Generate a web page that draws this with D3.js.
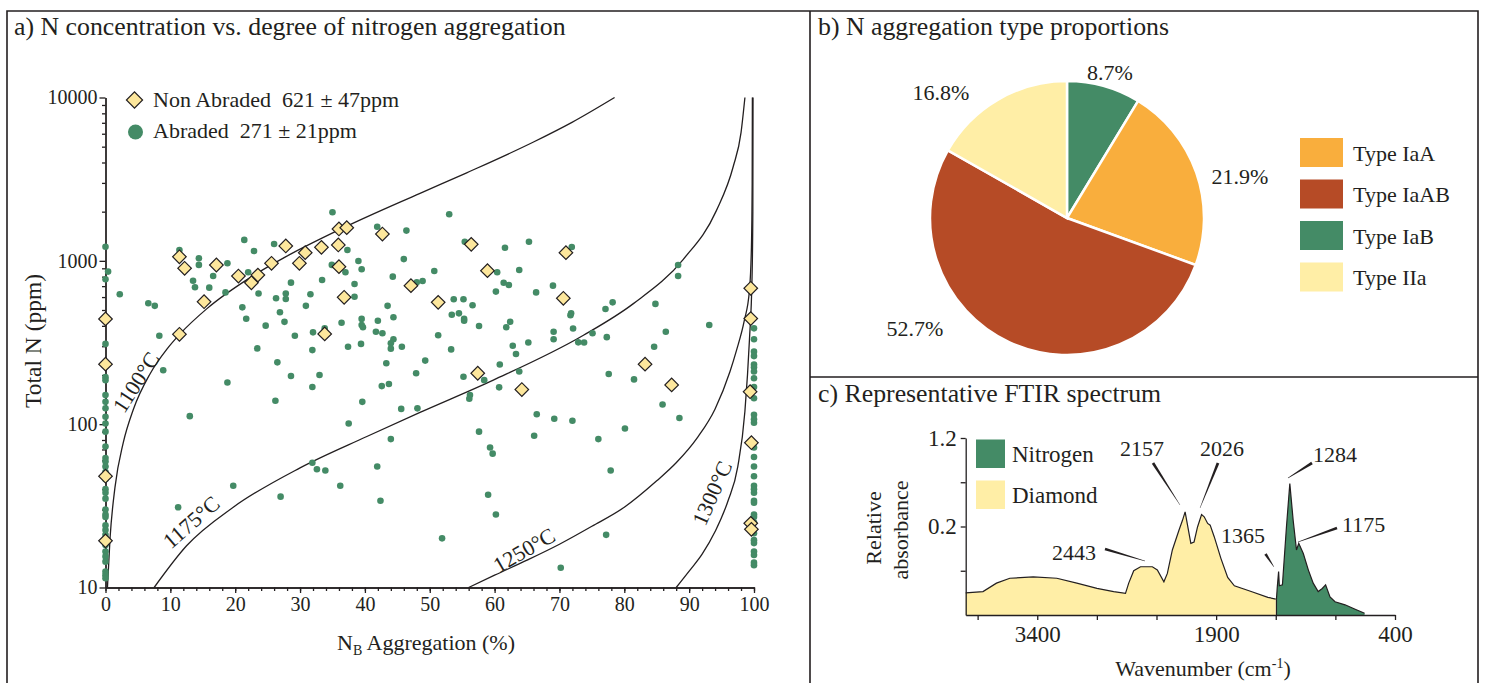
<!DOCTYPE html>
<html>
<head>
<meta charset="utf-8">
<script src="https://cdnjs.cloudflare.com/ajax/libs/d3/7.8.5/d3.min.js"></script>
<style>
body { margin: 0; background: #fff; }
</style>
</head>
<body>
<svg id="fig" width="1486" height="683"></svg>
<script>
// ---- panel a data: [N_B aggregation %, total N ppm]
var nonAbraded = [
  [0,441],[0,233],[0,48],[0,19.3],
  [11.4,1059],[12.2,900],[11.4,355],[15.2,562],[17.1,943],[20.5,807],[22.5,734],[23.5,818],
  [25.6,966],[27.8,1233],[29.9,966],[30.8,1122],[33.3,1210],[33.8,357],[35.9,1251],[36.0,1567],
  [36.0,921],[36.8,598],[37.2,1596],[42.7,1459],[47.1,705],[51.3,557],[56.4,1262],[57.4,205],
  [58.9,871],[64.2,163],[70.6,590],[71.0,1122],[83.2,233],[87.3,174],
  [99.5,679],[99.5,443],[99.4,158],[99.6,77],[99.5,24.7],[99.6,22.7]
];
var abraded = [
  [0,1220],[0.4,859],[0,771],[2.2,624],[6.6,550],[7.6,530],[0,310],[8.3,348],[8.9,214],
  [11.4,1165],[14.4,1037],[14.4,944],[13.5,755],[13.8,689],[16.0,685],[16.6,807],[18.8,966],[18.5,641],
  [21.4,1343],[22.9,1148],[22.0,851],[23.6,631],[21.1,519],[21.7,442],[24.7,401],[23.4,291],[26.5,239],
  [26.0,1268],[26.3,590],[26.9,484],[27.6,423],[27.8,631],[27.8,584],[28.6,735],[29.2,348],[28.6,197],
  [30.9,530],[31.6,624],[32.0,365],[31.9,284],[33.0,200],[33.4,763],[33.8,386],[35.0,1982],[34.9,944],
  [37.0,851],[37.3,1165],[36.4,418],[37.4,298],[38.4,722],[38.4,603],[39.0,998],[39.5,888],[39.5,441],
  [39.5,405],[39.7,392],[39.4,310],[41.9,1618],[41.7,368],[42.7,360],[42.0,430],[43.5,530],[43.3,236],
  [44.3,800],[44.4,451],[44.4,331],[44.0,313],[44.0,290],
  [46.4,1531],[46.0,1025],[45.7,298],[47.9,205],[48.0,739],[48.9,752],[50.7,867],[51.3,350],[49.3,245],
  [53.3,287],[53.0,1928],[55.4,1310],[53.7,582],[55.2,582],[56.6,535],[53.4,468],[54.5,477],[55.3,441],
  [55.3,430],[57.6,399],[60.4,851],[61.4,734],[62.2,711],[60.2,648],[61.6,1203],[63.8,879],[65.3,1310],
  [66.4,641],[69.0,705],[71.9,1216],[62.4,424],[61.8,392],[62.8,302],[63.3,269],[65.2,316],[60.8,232],
  [63.8,210],[55.2,195],[69.1,368],[69.1,331],[71.7,464],[71.8,477],[72.1,385],[72.9,317],[73.8,316],
  [75.1,360],[77.3,341],[77.1,507],[78.2,557],[77.6,203],[81.5,188],[84.8,545],[86.4,368],[84.6,298],
  [88.3,943],[88.3,807],[93.1,405],
  [18.8,180],[31.9,169],[42.6,171],[43.7,176],[26.2,139],[39.6,137],[13.0,112],[45.6,124],[48.1,125],
  [37.5,101],[44.0,81],[31.9,58],[32.6,53],[33.9,52],[41.9,55],[36.2,42],[19.7,42],[27.0,36],[42.4,34],[11.2,31],
  [58.4,186],[60.7,168],[56.2,151],[56.1,143],[66.5,115],[69.2,108],[72.0,105],[57.6,90],[66.1,85],
  [76.0,81],[80.1,94],[85.9,132],[88.5,109],[59.3,72],[59.7,66],[77.9,52],[59.0,37],[60.2,28],
  [51.9,20],[77.2,21],[70.2,13.2],
  [0,194],[0,186],[0,151],[0,137],[0,125],[0,111],[0,101],[0,90],[0,73],[0,62],[0,59],[0,55],[0,51],
  [0,46],[0,40],[0,38],[0,35],[0,30],[0,28],[0,27],[0,24],[0,22.5],[0,21],[0,18.2],[0,16.6],[0,15.5],
  [0,14.4],[0,12.5],[0,11.9],[0,11.4],
  [100,386],[100,331],[100,278],[100,261],[100,232],[100,223],[100,210],[100,191],[100,169],[100,144],
  [100,114],[100,107],[100,102],[100,72],[100,63],[100,55],[100,48],[100,42],[100,40],[100,38],[100,34],
  [100,33],[100,28],[100,27],[100,25],[100,21.5],[100,19.5],[100,18.7],[100,16.6],[100,15.8],[100,14.2],[100,13.7]
];
// isotherms
var iso1100 = [[0.3,10],[0.7,20],[1.46,41],[2.74,77],[4.29,123],[6.86,203],[9.44,287],[11.5,357],[15.6,508],
  [22.3,789],[27.9,1064],[36.7,1594],[48.5,2590],[55.7,3460],[66,5340],[72,7070],[78.5,10000]];
var iso1175 = [[7.5,10],[12.5,18],[19.7,31],[30,54],[40.3,84],[48.5,118],[59.8,186],[73.7,350],[81.4,547],
  [89.1,1022],[94.2,2030],[96.8,3780],[98,6100],[98.6,10000]];
var iso1250 = [[56,10],[60,11.9],[65,14.7],[70,18.4],[75,23.7],[80,31],[85,45],[88,58],[91.3,83],[94,124],
  [96.3,210],[97.3,283],[98.5,430],[99.3,660],[99.6,1200],[99.72,3000],[99.75,10000]];
var iso1300 = [[88,10],[90,12.6],[92,16],[94,22],[96,34],[97.5,55],[98.6,120],[99.3,330],[99.7,800],
  [99.82,2000],[99.85,10000]];
var isoNames = ["1100°C", "1175°C", "1250°C", "1300°C"];
var xTicksA = [0,10,20,30,40,50,60,70,80,90,100];
var yTicksA = [10,100,1000,10000];

// ---- panel b data
var sliceTypes = ["Type IaB", "Type IaA", "Type IaAB", "Type IIa"];
var sliceValues = [8.7, 21.9, 52.7, 16.8];
var legendTypes = ["Type IaA", "Type IaAB", "Type IaB", "Type IIa"];

// ---- panel c data: [wavenumber cm-1, absorbance]
var diamondSpec = [[4000,0.050],[3855,0.053],[3742,0.072],[3630,0.083],[3434,0.086],[3236,0.083],[3068,0.072],
  [2899,0.060],[2759,0.053],[2660,0.049],[2633,0.072],[2591,0.100],[2534,0.109],[2435,0.109],[2393,0.102],
  [2338,0.075],[2309,0.094],[2267,0.147],[2211,0.192],[2182,0.214],[2160,0.233],[2112,0.162],[2085,0.165],
  [2056,0.199],[2022,0.227],[2000,0.222],[1971,0.207],[1950,0.203],[1916,0.177],[1860,0.128],[1803,0.085],
  [1747,0.066],[1606,0.053],[1466,0.040],[1400,0.036]];
var nitrogenSpec = [[1394,0.036],[1387,0.064],[1376,0.098],[1370,0.066],[1344,0.068],[1310,0.2],[1282,0.297],
  [1254,0.214],[1226,0.147],[1207,0.162],[1169,0.139],[1127,0.102],[1086,0.072],[1044,0.053],[1010,0.060],
  [982,0.068],[945,0.041],[903,0.030],[819,0.023],[734,0.013],[655,0.004]];
var peakNames = ["2443", "2157", "2026", "1365", "1284", "1175"];
var specXTicks = [3900,3400,2900,2400,1900,1400,900,400];
var specXLabels = ["", "3400", "", "", "1900", "", "", "400"];
var specYTicks = [0.1,0.2,0.3,0.4];
var specYLabels = ["", "0.2", "", "1.2"];

var serif = '"Liberation Serif", Tinos, "Times New Roman", Times, "DejaVu Serif", serif';
var ink = "#231f20";
var green = "#448b66", orange = "#f9ae3d", rust = "#b64b26", pale = "#ffeea6", diamondFill = "#fde79c";
var typeColor = { "Type IaA": orange, "Type IaAB": rust, "Type IaB": green, "Type IIa": pale };

var svg = d3.select("#fig").style("font-family", serif);

// frames
var frame = svg.append("g").attr("fill", "none").attr("stroke", ink).attr("stroke-width", 1.6);
frame.append("path").attr("d", "M7,683V11H1478V683");
frame.append("path").attr("d", "M810,11V683M810,377H1478");

// titles
svg.append("text").attr("x", 14).attr("y", 35).style("font-size", "25.8px")
    .text("a) N concentration vs. degree of nitrogen aggregation");
svg.append("text").attr("x", 818).attr("y", 35).style("font-size", "25.8px")
    .text("b) N aggregation type proportions");
svg.append("text").attr("x", 818).attr("y", 402).style("font-size", "25.8px")
    .text("c) Representative FTIR spectrum");

// ================= panel a
var x = d3.scaleLinear().domain([0, 100]).range([105.5, 754]);
var y = d3.scaleLog().domain([10, 10000]).range([587.5, 97.5]);

var ga = svg.append("g");

ga.append("g").attr("transform", "translate(0,587.5)")
    .call(d3.axisBottom(x).tickValues(d3.range(0, 101, 2)).tickSize(3.5).tickFormat("").tickSizeOuter(0));
ga.append("g").attr("transform", "translate(0,587.5)")
    .call(d3.axisBottom(x).tickValues(xTicksA).tickSize(5.5).tickPadding(4).tickSizeOuter(0))
    .selectAll("text").style("font-size", "20px");

var minorY = [];
[10, 100, 1000].forEach(function(d) { for (var k = 2; k < 10; k++) minorY.push(d * k); });
ga.append("g").attr("transform", "translate(105.5,0)")
    .call(d3.axisLeft(y).tickValues(minorY).tickSize(3.5).tickFormat("").tickSizeOuter(0));
ga.append("g").attr("transform", "translate(105.5,0)")
    .call(d3.axisLeft(y).tickValues(yTicksA).tickSize(6).tickPadding(2).tickFormat(d3.format("d")).tickSizeOuter(0))
    .selectAll("text").style("font-size", "20px");
ga.selectAll(".domain, .tick line").attr("stroke", ink).attr("stroke-width", 1.3);

// isotherms
var isoLine = d3.line()
    .x(function(d) { return x(d[0]); })
    .y(function(d) { return y(d[1]); })
    .curve(d3.curveMonotoneX);
[iso1100, iso1175, iso1250, iso1300].forEach(function(c) {
    ga.append("path").attr("d", isoLine(c)).attr("fill", "none")
        .attr("stroke", ink).attr("stroke-width", 1.3);
});
var isoLabelPos = [[136, 382, -57], [191, 522, -41], [524, 550, -30], [712, 493, -66]];
isoNames.forEach(function(n, i) {
    var p = isoLabelPos[i];
    ga.append("text").attr("transform", "translate(" + p[0] + "," + p[1] + ") rotate(" + p[2] + ")")
        .attr("text-anchor", "middle").attr("dy", "0.35em").style("font-size", "22px").text(n);
});

// points
ga.append("g").selectAll("circle").data(abraded).enter().append("circle")
    .attr("cx", function(d) { return x(d[0]); })
    .attr("cy", function(d) { return y(d[1]); })
    .attr("r", 3.3).attr("fill", green);

var diamond = d3.symbol().type(d3.symbolSquare).size(92);
ga.append("g").selectAll("path").data(nonAbraded).enter().append("path")
    .attr("d", diamond)
    .attr("transform", function(d) { return "translate(" + x(d[0]) + "," + y(d[1]) + ") rotate(45)"; })
    .attr("fill", diamondFill).attr("stroke", ink).attr("stroke-width", 1.2);

// legend
ga.append("path").attr("d", d3.symbol().type(d3.symbolSquare).size(130))
    .attr("transform", "translate(134.5,100) rotate(45)")
    .attr("fill", diamondFill).attr("stroke", ink).attr("stroke-width", 1.2);
ga.append("circle").attr("cx", 135.5).attr("cy", 132).attr("r", 7.5).attr("fill", green);
ga.append("text").attr("x", 153).attr("y", 106.5).style("font-size", "22px")
    .style("white-space", "pre").text("Non Abraded\u00a0 621 \u00b1 47ppm");
ga.append("text").attr("x", 153).attr("y", 138).style("font-size", "22px")
    .style("white-space", "pre").text("Abraded\u00a0 271 \u00b1 21ppm");

// axis titles
ga.append("text").attr("transform", "translate(41,341) rotate(-90)").attr("text-anchor", "middle")
    .style("font-size", "23.5px").text("Total N (ppm)");
var xt = ga.append("text").attr("x", 426).attr("y", 650).attr("text-anchor", "middle").style("font-size", "22px");
xt.append("tspan").text("N");
xt.append("tspan").attr("dy", 5).style("font-size", "14px").text("B");
xt.append("tspan").attr("dy", -5).text(" Aggregation (%)");

// ================= panel b
var pie = d3.pie().sort(null).value(function(d) { return d; });
var arc = d3.arc().innerRadius(0).outerRadius(137);
var gb = svg.append("g").attr("transform", "translate(1067,218)");
gb.selectAll("path").data(pie(sliceValues)).enter().append("path")
    .attr("d", arc)
    .attr("fill", function(d, i) { return typeColor[sliceTypes[i]]; })
    .attr("stroke", "#fff").attr("stroke-width", 2.5);

var pctPos = [[1110, 72], [1240, 176], [915, 328], [941, 92]];
sliceValues.forEach(function(v, i) {
    svg.append("text").attr("x", pctPos[i][0]).attr("y", pctPos[i][1]).attr("dy", "0.35em")
        .attr("text-anchor", "middle").style("font-size", "22px").text(v.toFixed(1) + "%");
});

var leg = svg.append("g").selectAll("g").data(legendTypes).enter().append("g")
    .attr("transform", function(d, i) { return "translate(1300," + (138 + i * 41.5) + ")"; });
leg.append("rect").attr("width", 43).attr("height", 29).attr("fill", function(d) { return typeColor[d]; });
leg.append("text").attr("x", 53).attr("y", 15).attr("dy", "0.35em").style("font-size", "22px")
    .text(function(d) { return d; });

// ================= panel c
var xs = d3.scaleLinear().domain([4000, 400]).range([965.7, 1395]);
var ys = d3.scaleLinear().domain([0, 0.4]).range([615, 438]);
var gc = svg.append("g");

var area = d3.area()
    .x(function(d) { return xs(d[0]); })
    .y0(ys(0))
    .y1(function(d) { return ys(d[1]); });
var line = d3.line()
    .x(function(d) { return xs(d[0]); })
    .y(function(d) { return ys(d[1]); });

gc.append("path").attr("d", area(diamondSpec)).attr("fill", pale);
gc.append("path").attr("d", area(nitrogenSpec)).attr("fill", green);
gc.append("path").attr("d", line(diamondSpec)).attr("fill", "none").attr("stroke", ink).attr("stroke-width", 1.2);
gc.append("path").attr("d", line(nitrogenSpec)).attr("fill", "none").attr("stroke", ink).attr("stroke-width", 1.2);
gc.append("line").attr("x1", xs(1394)).attr("x2", xs(1394)).attr("y1", ys(0)).attr("y2", ys(0.036))
    .attr("stroke", ink).attr("stroke-width", 1.2);

gc.append("g").attr("transform", "translate(0,615)")
    .call(d3.axisBottom(xs).tickValues(specXTicks).tickSize(5).tickPadding(6).tickSizeOuter(0)
        .tickFormat(function(d, i) { return specXLabels[i]; }))
    .selectAll("text").style("font-size", "23px");
gc.append("g").attr("transform", "translate(965.7,0)")
    .call(d3.axisLeft(ys).tickValues(specYTicks).tickSize(5).tickPadding(4).tickSizeOuter(0)
        .tickFormat(function(d, i) { return specYLabels[i]; }))
    .selectAll("text").style("font-size", "23px");
gc.selectAll(".domain, .tick line").attr("stroke", ink).attr("stroke-width", 1.3);

// peak labels with tapered leaders
var peakText = [[1096, 560, "end"], [1142, 456, "middle"], [1222, 456, "middle"], [1243, 543, "middle"],
    [1313, 462, "start"], [1342, 532, "start"]];
var peakLead = [[[1105, 549], [1145, 561]], [[1153, 463], [1180, 505]], [[1218, 463], [1200, 508]],
    [[1265.5, 554], [1274, 567]], [[1312, 463], [1288, 478]], [[1337, 528], [1298, 542]]];
function taper(p, q, w1, w2) {
    var dx = q[0] - p[0], dy = q[1] - p[1], L = Math.hypot(dx, dy), nx = -dy / L, ny = dx / L;
    return "M" + (p[0] + nx * w1) + "," + (p[1] + ny * w1) + "L" + (q[0] + nx * w2) + "," + (q[1] + ny * w2) +
        "L" + (q[0] - nx * w2) + "," + (q[1] - ny * w2) + "L" + (p[0] - nx * w1) + "," + (p[1] - ny * w1) + "Z";
}
peakNames.forEach(function(n, i) {
    gc.append("path").attr("d", taper(peakLead[i][0], peakLead[i][1], 1.4, 0.2)).attr("fill", ink);
    gc.append("text").attr("x", peakText[i][0]).attr("y", peakText[i][1])
        .attr("text-anchor", peakText[i][2]).style("font-size", "22px").text(n);
});

// legend c
var specLegend = [["Nitrogen", green], ["Diamond", pale]];
specLegend.forEach(function(d, i) {
    gc.append("rect").attr("x", 976).attr("y", 439.5 + i * 41).attr("width", 29).attr("height", 28.5).attr("fill", d[1]);
    gc.append("text").attr("x", 1012).attr("y", 461.5 + i * 41).style("font-size", "23px").text(d[0]);
});

gc.append("text").attr("transform", "translate(881,528) rotate(-90)").attr("text-anchor", "middle")
    .style("font-size", "22px").text("Relative");
gc.append("text").attr("transform", "translate(908,530) rotate(-90)").attr("text-anchor", "middle")
    .style("font-size", "22px").text("absorbance");
var wt = gc.append("text").attr("x", 1203).attr("y", 676).attr("text-anchor", "middle").style("font-size", "22px");
wt.append("tspan").text("Wavenumber (cm");
wt.append("tspan").attr("dy", -8).style("font-size", "14px").text("-1");
wt.append("tspan").attr("dy", 8).text(")");

// every label in the serif face, overriding the axis defaults
svg.selectAll("text").style("font-family", serif).style("fill", ink);
svg.selectAll("g").attr("font-family", null);
</script>
</body>
</html>
